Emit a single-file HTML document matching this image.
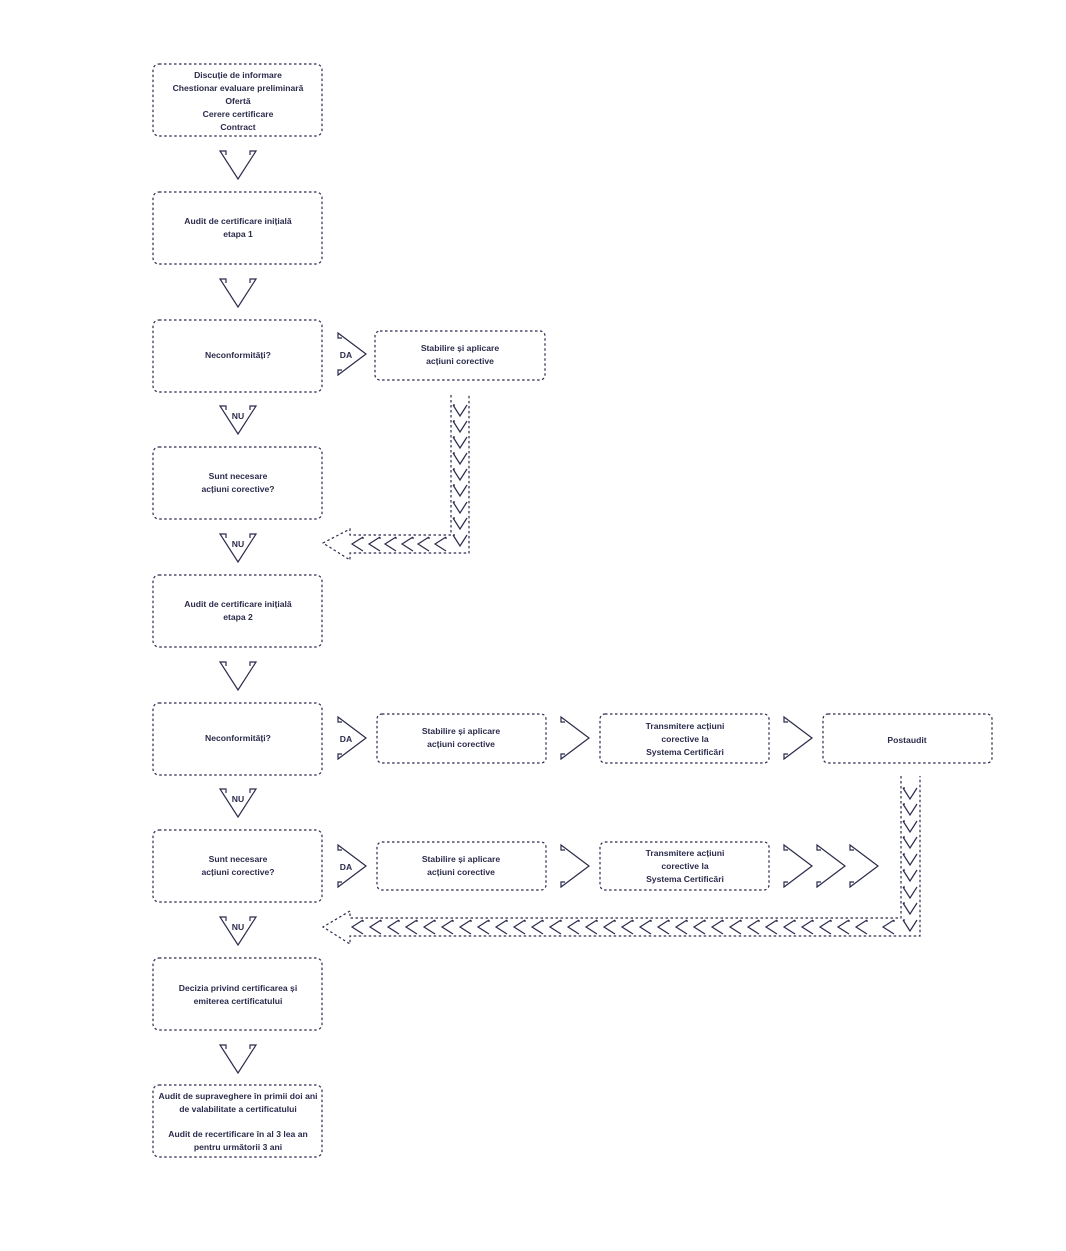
<!DOCTYPE html>
<html><head><meta charset="utf-8"><style>
html,body{margin:0;padding:0;background:#fff;}
svg{display:block}
text{font-family:"Liberation Sans",sans-serif;font-size:8.6px;fill:#2b2b4d;text-anchor:middle;font-weight:bold}
.b{fill:none;stroke:#2b2b4d;stroke-width:1.2;stroke-dasharray:2.5 2.5}
.a{fill:none;stroke:#2b2b4d;stroke-width:1.2;stroke-linejoin:miter}
</style></head><body>
<svg width="1066" height="1251" viewBox="0 0 1066 1251" xmlns="http://www.w3.org/2000/svg">
<defs>
<path id="dn" class="a" d="M-12,5 L-12,1 L-18,1 L0,29 L18,1 L12,1 L12,5"/>
<path id="rt" class="a" d="M5,-16 L1,-16 L1,-21 L29,0 L1,21 L1,16 L5,16"/>
<path id="cv" class="a" d="M-7,-5 L0,6 L7,-5 M-7,-5 L-5,-5"/>
<path id="cl" class="a" d="M5,-7 L-6,0 L5,7 M5,-7 L5,-5"/>
</defs>
<rect class="b" x="153" y="64" width="169" height="72" rx="6"/>
<rect class="b" x="153" y="192" width="169" height="72" rx="6"/>
<rect class="b" x="153" y="320" width="169" height="72" rx="6"/>
<rect class="b" x="153" y="447" width="169" height="72" rx="6"/>
<rect class="b" x="153" y="575" width="169" height="72" rx="6"/>
<rect class="b" x="153" y="703" width="169" height="72" rx="6"/>
<rect class="b" x="153" y="830" width="169" height="72" rx="6"/>
<rect class="b" x="153" y="958" width="169" height="72" rx="6"/>
<rect class="b" x="153" y="1085" width="169" height="72" rx="6"/>
<text x="238" y="78">Discuție de informare</text>
<text x="238" y="91">Chestionar evaluare preliminară</text>
<text x="238" y="104">Ofertă</text>
<text x="238" y="117">Cerere certificare</text>
<text x="238" y="130">Contract</text>
<text x="238" y="224">Audit de certificare inițială</text>
<text x="238" y="237">etapa 1</text>
<text x="238" y="358">Neconformități?</text>
<text x="238" y="479">Sunt necesare</text>
<text x="238" y="492">acțiuni corective?</text>
<text x="238" y="607">Audit de certificare inițială</text>
<text x="238" y="620">etapa 2</text>
<text x="238" y="741">Neconformități?</text>
<text x="238" y="862">Sunt necesare</text>
<text x="238" y="875">acțiuni corective?</text>
<text x="238" y="991">Decizia privind certificarea și</text>
<text x="238" y="1004">emiterea certificatului</text>
<text x="238" y="1099">Audit de supraveghere în primii doi ani</text>
<text x="238" y="1112">de valabilitate a certificatului</text>
<text x="238" y="1137">Audit de recertificare în al 3 lea an</text>
<text x="238" y="1150">pentru următorii 3 ani</text>
<use href="#dn" x="238" y="150"/>
<use href="#dn" x="238" y="278"/>
<use href="#dn" x="238" y="405"/><text x="238" y="419">NU</text>
<use href="#dn" x="238" y="533"/><text x="238" y="547">NU</text>
<use href="#dn" x="238" y="661"/>
<use href="#dn" x="238" y="788"/><text x="238" y="802">NU</text>
<use href="#dn" x="238" y="916"/><text x="238" y="930">NU</text>
<use href="#dn" x="238" y="1044"/>
<use href="#rt" x="337" y="354"/><text x="346" y="358">DA</text>
<rect class="b" x="375" y="331" width="170" height="49" rx="5"/>
<text x="460" y="351">Stabilire și aplicare</text>
<text x="460" y="364">acțiuni corective</text>
<path class="b" d="M451,395 L451,535 L350,535 L350,529 L323,543 L350,560 L350,553 L469,553 L469,395"/>
<use href="#cv" x="460" y="410"/><use href="#cv" x="460" y="426"/><use href="#cv" x="460" y="442"/>
<use href="#cv" x="460" y="458"/><use href="#cv" x="460" y="474"/><use href="#cv" x="460" y="490"/>
<use href="#cv" x="460" y="507"/><use href="#cv" x="460" y="523"/><use href="#cv" x="460" y="540"/>
<use href="#cl" x="358" y="544"/><use href="#cl" x="375" y="544"/><use href="#cl" x="391" y="544"/>
<use href="#cl" x="408" y="544"/><use href="#cl" x="424" y="544"/><use href="#cl" x="441" y="544"/>
<use href="#rt" x="337" y="738"/><text x="346" y="742">DA</text>
<rect class="b" x="377" y="714" width="169" height="49" rx="5"/>
<text x="461" y="734">Stabilire și aplicare</text>
<text x="461" y="747">acțiuni corective</text>
<use href="#rt" x="560" y="738"/>
<rect class="b" x="600" y="714" width="169" height="49" rx="5"/>
<text x="685" y="729">Transmitere acțiuni</text>
<text x="685" y="742">corective la</text>
<text x="685" y="755">Systema Certificări</text>
<use href="#rt" x="783" y="738"/>
<rect class="b" x="823" y="714" width="169" height="49" rx="5"/>
<text x="907" y="743">Postaudit</text>
<use href="#rt" x="337" y="866"/><text x="346" y="870">DA</text>
<rect class="b" x="377" y="842" width="169" height="48" rx="5"/>
<text x="461" y="862">Stabilire și aplicare</text>
<text x="461" y="875">acțiuni corective</text>
<use href="#rt" x="560" y="866"/>
<rect class="b" x="600" y="842" width="169" height="48" rx="5"/>
<text x="685" y="856">Transmitere acțiuni</text>
<text x="685" y="869">corective la</text>
<text x="685" y="882">Systema Certificări</text>
<use href="#rt" x="783" y="866"/><use href="#rt" x="816" y="866"/><use href="#rt" x="849" y="866"/>
<path class="b" d="M901,776 L901,918 L350,918 L350,911 L323,927 L350,944 L350,936 L920,936 L920,776"/>
<use href="#cv" x="910" y="793"/><use href="#cv" x="910" y="809"/><use href="#cv" x="910" y="826"/>
<use href="#cv" x="910" y="842"/><use href="#cv" x="910" y="859"/><use href="#cv" x="910" y="875"/>
<use href="#cv" x="910" y="892"/><use href="#cv" x="910" y="908"/><use href="#cv" x="910" y="925"/>
<use href="#cl" x="358" y="927"/><use href="#cl" x="376" y="927"/><use href="#cl" x="394" y="927"/>
<use href="#cl" x="412" y="927"/><use href="#cl" x="430" y="927"/><use href="#cl" x="448" y="927"/>
<use href="#cl" x="466" y="927"/><use href="#cl" x="484" y="927"/><use href="#cl" x="502" y="927"/>
<use href="#cl" x="520" y="927"/><use href="#cl" x="538" y="927"/><use href="#cl" x="556" y="927"/>
<use href="#cl" x="574" y="927"/><use href="#cl" x="592" y="927"/><use href="#cl" x="610" y="927"/>
<use href="#cl" x="628" y="927"/><use href="#cl" x="646" y="927"/><use href="#cl" x="664" y="927"/>
<use href="#cl" x="682" y="927"/><use href="#cl" x="700" y="927"/><use href="#cl" x="718" y="927"/>
<use href="#cl" x="736" y="927"/><use href="#cl" x="754" y="927"/><use href="#cl" x="772" y="927"/>
<use href="#cl" x="790" y="927"/><use href="#cl" x="808" y="927"/><use href="#cl" x="826" y="927"/>
<use href="#cl" x="844" y="927"/><use href="#cl" x="862" y="927"/><use href="#cl" x="889" y="927"/>
</svg>
</body></html>
